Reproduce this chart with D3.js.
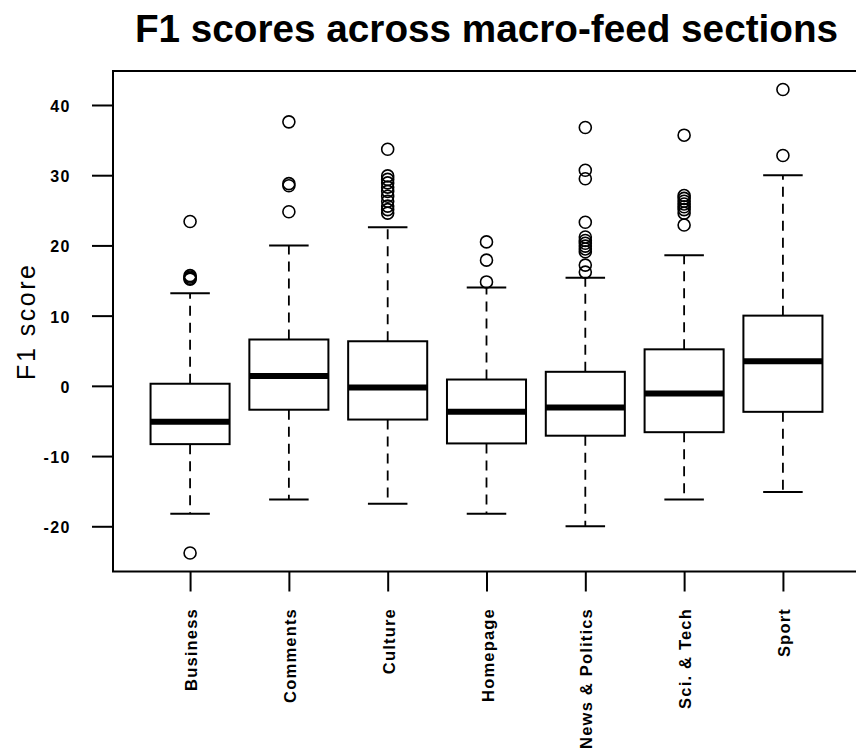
<!DOCTYPE html>
<html>
<head>
<meta charset="utf-8">
<script src="https://cdn.jsdelivr.net/npm/d3@7"></script>
<style>
  html, body { margin: 0; padding: 0; background: #fff; }
  svg { display: block; }
  text { font-family: "Liberation Sans", Arial, Helvetica, sans-serif; fill: #000; }
</style>
</head>
<body>
<svg id="chart" width="856" height="753"></svg>
<script>
// F1 score distributions per macro-feed section (five-number summaries + outliers)
const categories = ["Business", "Comments", "Culture", "Homepage", "News & Politics", "Sci. & Tech", "Sport"];
const whiskerLow  = [-18.2, -16.2, -16.8, -18.2, -20.0, -16.2, -15.1];
const q1          = [-8.3,  -3.4,  -4.8,  -8.2,  -7.1,  -6.6,  -3.7];
const medians     = [-5.1,   1.4,  -0.25, -3.7,  -3.1,  -1.1,   3.5];
const q3          = [ 0.3,   6.6,   6.35,  0.9,   2.0,   5.2,  10.0];
const whiskerHigh = [13.2,  20.0,  22.6,  14.0,  15.4,  18.6,  30.0];
const outliers = [
  [23.4, 15.7, 15.5, 15.3, 15.2, -23.8],
  [37.6, 28.8, 28.5, 24.8],
  [33.7, 29.9, 29.4, 28.9, 28.3, 27.7, 27.0, 26.3, 25.6, 25.1, 24.6],
  [20.5, 17.9, 14.8],
  [36.8, 30.7, 29.5, 23.3, 21.2, 20.7, 20.3, 19.9, 19.5, 19.1, 17.2, 16.2],
  [35.7, 27.1, 26.7, 26.3, 25.9, 25.5, 25.1, 24.6, 22.9],
  [42.2, 32.8]
];
const yTicks = [-20, -10, 0, 10, 20, 30, 40];
const titleText = "F1 scores across macro-feed sections";
const yLabel = "F1 score";

const svg = d3.select("#chart");
const plot = { left: 113, right: 860, top: 71, bottom: 571.5 };

// y extent: full data range padded by 4% each side
const allVals = whiskerLow.concat(whiskerHigh, outliers.flat());
const lo = d3.min(allVals), hi = d3.max(allVals);
const pad = (hi - lo) * 0.04;
const y = d3.scaleLinear().domain([lo - pad, hi + pad]).range([plot.bottom, plot.top]);

const x = d3.scalePoint().domain(categories).range([plot.left, plot.right]).padding(0.78);
const step = x.step();
const boxW = step * 0.8;
const capW = boxW * 0.5;

// title
svg.append("text")
  .attr("x", (plot.left + plot.right) / 2)
  .attr("y", 42)
  .attr("text-anchor", "middle")
  .style("font-size", "38.7px")
  .style("font-weight", "bold")
  .text(titleText);

// boxes
const g = svg.append("g");
categories.forEach((c, i) => {
  const cx = x(c);
  const grp = g.append("g");
  // whiskers (dashed)
  grp.append("line")
    .attr("x1", cx).attr("x2", cx)
    .attr("y1", y(q3[i])).attr("y2", y(whiskerHigh[i]))
    .attr("stroke", "#000").attr("stroke-width", 1.8).attr("stroke-dasharray", "10,7");
  grp.append("line")
    .attr("x1", cx).attr("x2", cx)
    .attr("y1", y(q1[i])).attr("y2", y(whiskerLow[i]))
    .attr("stroke", "#000").attr("stroke-width", 1.8).attr("stroke-dasharray", "10,7");
  // staples
  [whiskerLow[i], whiskerHigh[i]].forEach(v => {
    grp.append("line")
      .attr("x1", cx - capW / 2).attr("x2", cx + capW / 2)
      .attr("y1", y(v)).attr("y2", y(v))
      .attr("stroke", "#000").attr("stroke-width", 2);
  });
  // box
  grp.append("rect")
    .attr("x", cx - boxW / 2).attr("width", boxW)
    .attr("y", y(q3[i])).attr("height", y(q1[i]) - y(q3[i]))
    .attr("fill", "#fff").attr("stroke", "#000").attr("stroke-width", 2);
  // median
  grp.append("line")
    .attr("x1", cx - boxW / 2).attr("x2", cx + boxW / 2)
    .attr("y1", y(medians[i])).attr("y2", y(medians[i]))
    .attr("stroke", "#000").attr("stroke-width", 6);
  // outliers
  grp.selectAll("circle.out").data(outliers[i]).enter().append("circle")
    .attr("class", "out")
    .attr("cx", cx).attr("cy", d => y(d)).attr("r", 6)
    .attr("fill", "none").attr("stroke", "#000").attr("stroke-width", 1.6);
});

// plot frame
svg.append("rect")
  .attr("x", plot.left).attr("y", plot.top)
  .attr("width", plot.right - plot.left).attr("height", plot.bottom - plot.top)
  .attr("fill", "none").attr("stroke", "#000").attr("stroke-width", 2);

// y axis (plain hyphen for negative numbers)
const yAxis = svg.append("g")
  .attr("transform", `translate(${plot.left},0)`)
  .call(d3.axisLeft(y).tickValues(yTicks).tickSize(21).tickPadding(21).tickFormat(d => String(d)));
yAxis.select(".domain").remove();
yAxis.selectAll(".tick line").attr("stroke", "#000").attr("stroke-width", 2);
yAxis.selectAll(".tick text")
  .attr("dy", "0.4em")
  .style("font-family", "'Liberation Sans', Arial, sans-serif")
  .style("font-size", "16px")
  .style("font-weight", "bold")
  .style("letter-spacing", "1.5px")
  .attr("fill", "#000");

// x axis
const xAxis = svg.append("g")
  .attr("transform", `translate(0,${plot.bottom})`)
  .call(d3.axisBottom(x).tickSize(20).tickFormat(""));
xAxis.select(".domain").remove();
xAxis.selectAll(".tick line").attr("stroke", "#000").attr("stroke-width", 2);

svg.append("g").selectAll("text.cat").data(categories).enter().append("text")
  .attr("class", "cat")
  .attr("transform", d => `translate(${x(d) + 7},608) rotate(-90)`)
  .attr("text-anchor", "end")
  .style("font-size", "16.5px")
  .style("font-weight", "bold")
  .style("letter-spacing", "1.2px")
  .text(d => d);

// y axis title
svg.append("text")
  .attr("transform", `translate(35,${(plot.top + plot.bottom) / 2}) rotate(-90)`)
  .attr("text-anchor", "middle")
  .style("font-size", "25px")
  .style("letter-spacing", "2.5px")
  .text(yLabel);
</script>
</body>
</html>
